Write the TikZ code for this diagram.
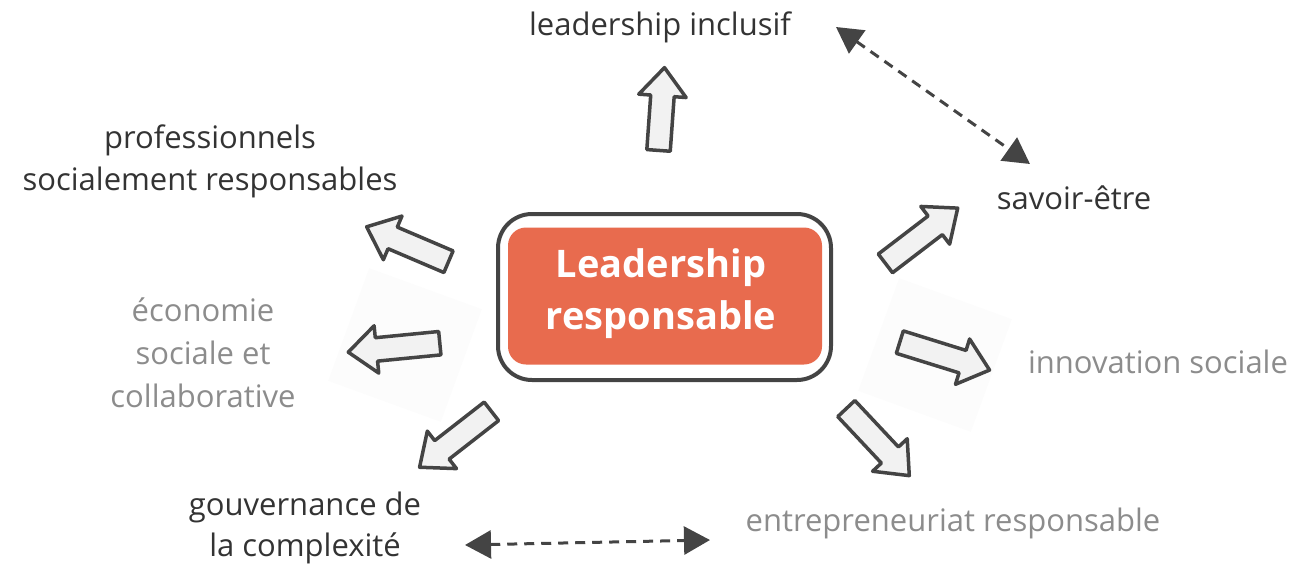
\documentclass[tikz,border=0pt]{standalone}
\usepackage{fontspec}
\setmainfont{Open Sans}
\usetikzlibrary{shapes.arrows,arrows.meta}
\definecolor{ink}{HTML}{333333}
\definecolor{graytxt}{HTML}{8C8C8C}
\definecolor{edge}{HTML}{444444}
\definecolor{orng}{HTML}{E86B4E}
\definecolor{afill}{HTML}{F2F2F2}
\tikzset{
  lbl/.style={font=\fontsize{31}{42}\selectfont, text=ink, align=center, inner sep=0},
  glbl/.style={lbl, text=graytxt},
  barrow/.style={single arrow, draw=edge, fill=afill, line width=3.5pt, inner xsep=0pt, inner ysep=10pt,
     minimum width=46pt, single arrow head extend=12pt, single arrow tip angle=80,
     line join=round},
  dasharrow/.style={draw=edge, line width=3pt, dash pattern=on 10pt off 7pt,
     {Triangle[length=26pt,width=28pt,fill=edge]}-{Triangle[length=26pt,width=28pt,fill=edge]}}
}
\begin{document}
\begin{tikzpicture}[x=1pt,y=-1pt]
\useasboundingbox (0,0) rectangle (1296,573);
% faint background squares
\fill[gray!2,rotate around={-20:(405,345)}] (345,285) rectangle (465,405);
\fill[gray!2,rotate around={-20:(935,355)}] (875,295) rectangle (995,415);
% center box
\draw[edge, line width=4pt, rounded corners=34pt, fill=white] (498,214) rectangle (831,380);
\node[fill=orng, rounded corners=18pt, minimum width=314pt, minimum height=137pt, inner sep=0] (core) at (665,296) {};
\node[text=white, font=\fontsize{38}{52}\selectfont\bfseries, align=center] (corelbl) at (661,294) {Leadership\\responsable};
% arrows
\node[barrow, minimum height=83pt, rotate=85.9] (aup) at (661,116) {};
\node[barrow, minimum height=89pt, rotate=156.9] (aul) at (414,247) {};
\node[barrow, minimum height=92pt, rotate=185.6] (al) at (401,347) {};
\node[barrow, minimum height=91pt, rotate=217.9] (all) at (461,435) {};
\node[barrow, minimum height=91pt, rotate=37.4] (aur) at (916,240) {};
\node[barrow, minimum height=94pt, rotate=-17.3] (ar) at (938,354) {};
\node[barrow, minimum height=92pt, rotate=-46.8] (alr) at (873,437) {};
% labels
\node[lbl] (t1) at (660,27) {leadership inclusif};
\node[lbl] (t2) at (210,161) {professionnels\\socialement responsables};
\node[lbl] (t3) at (1074,198) {savoir-être};
\node[glbl, font=\fontsize{31}{43}\selectfont] (t4) at (203,353) {économie\\sociale et\\collaborative};
\node[glbl] (t5) at (1158,362) {innovation sociale};
\node[lbl, font=\fontsize{31}{41}\selectfont] (t6) at (305,528) {gouvernance de\\la complexité};
\node[glbl] (t7) at (953,523) {entrepreneuriat responsable};
% dashed double arrows
\coordinate (d1a) at (836,27);
\coordinate (d1b) at (1030,164);
\coordinate (d2a) at (465,545);
\coordinate (d2b) at (710,540);
\draw[dasharrow] (d1a) -- (d1b);
\draw[dasharrow] (d2a) -- (d2b);
\end{tikzpicture}
\end{document}
